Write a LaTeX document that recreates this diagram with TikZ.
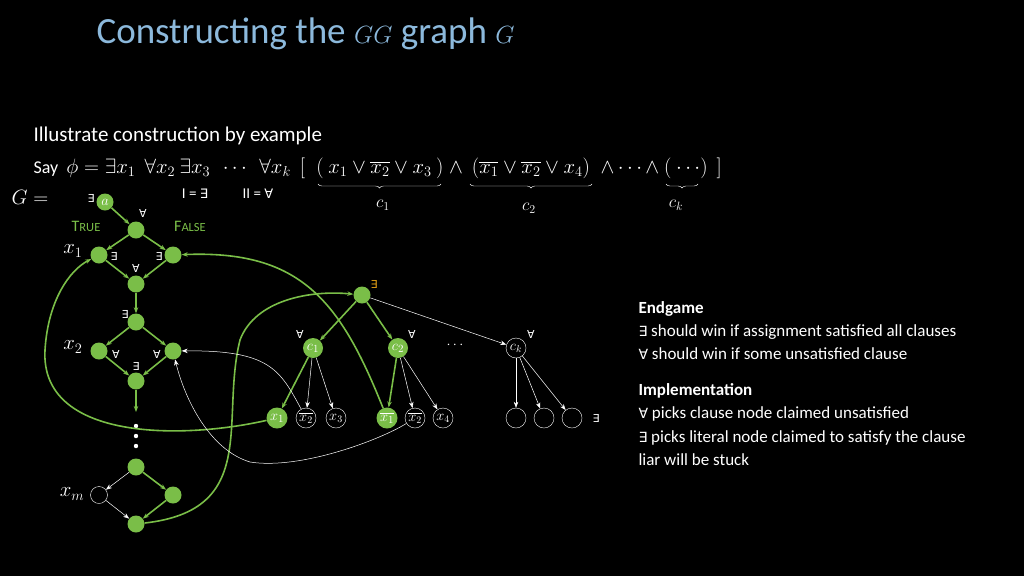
\documentclass[tikz,border=0pt]{standalone}
\usepackage{fontspec}
\setmainfont{Carlito}
\newfontfamily\symf{DejaVu Sans}
\usetikzlibrary{arrows.meta,decorations.pathreplacing}
\definecolor{gr}{RGB}{122,190,72}
\definecolor{ttl}{RGB}{140,185,220}
\definecolor{orq}{RGB}{230,160,20}
\begin{document}
\begin{tikzpicture}[x=1pt,y=-1pt,
 gn/.style={circle,fill=gr,minimum size=17pt,inner sep=0pt,text=white,font=\fontsize{15}{15}\selectfont},
 wn/.style={circle,draw=white,minimum size=20pt,inner sep=0pt,text=white,font=\fontsize{14}{14}\selectfont},
 ga/.style={draw=gr,line width=1.6pt,-{Stealth[length=6pt]}},
 wa/.style={draw=white,line width=0.5pt,-{Stealth[length=6pt]}},
 q/.style={text=white,font=\symf\fontsize{11}{11}\selectfont},
 fm/.style={text=white,anchor=base,font=\fontsize{20}{22}\selectfont},
 tx/.style={text=white,anchor=base west,font=\fontsize{17}{19}\selectfont}]
\fill[black] (0,0) rectangle (1024,576);
\useasboundingbox (0,0) rectangle (1024,576);
\node[text=ttl,anchor=base west,font=\fontsize{37}{40}\selectfont] (title) at (93,43) {Constructing the $\mathsurround=0pt\fontsize{40}{40}\selectfont GG$ graph {\fontsize{40}{40}\selectfont$G$}};
\node[tx,font=\fontsize{21}{23}\selectfont] (ill) at (30,141) {Illustrate construction by example};
\node[tx,font=\fontsize{18}{20}\selectfont] (say) at (30,173) {Say\ \ {\fontsize{20}{22}\selectfont$\phi=\exists x_1\ \ \forall x_2\ \exists x_3\ \ \cdots\ \ \forall x_k\ \ [$}};
\node[fm] (p1) at (380,173) {$(\ x_1\vee\overline{x_2}\vee x_3\ )$};
\node[fm] (p2) at (456,173) {$\wedge$};
\node[fm] (p3) at (531,173) {$(\overline{x_1}\vee\overline{x_2}\vee x_4)$};
\node[fm] (p4) at (630,173) {$\wedge\cdots\wedge$};
\node[fm] (p5) at (693,173) {$(\ \cdots)\ \ ]$};
\draw[white,decorate,decoration={brace,mirror,amplitude=4pt}] (318,184) -- (441,184);
\draw[white,decorate,decoration={brace,mirror,amplitude=4pt}] (470,184) -- (592,184);
\draw[white,decorate,decoration={brace,mirror,amplitude=4pt}] (666,184) -- (698,184);
\node[text=white,font=\fontsize{18}{18}\selectfont] (c1l) at (383,205) {$c_1$};
\node[text=white,font=\fontsize{18}{18}\selectfont] (c2l) at (529,208) {$c_2$};
\node[text=white,font=\fontsize{18}{18}\selectfont] (ckl) at (676,205) {$c_k$};
\node[text=white,font=\fontsize{20}{20}\selectfont] (Geq) at (30,197) {$G=$};
\node[text=white,font=\fontsize{15}{15}\selectfont] (I1) at (195,194) {I = {\symf\fontsize{13}{13}\selectfont ∃}};
\node[text=white,font=\fontsize{15}{15}\selectfont] (I2) at (258,194) {II = {\symf\fontsize{13}{13}\selectfont ∀}};
\node[text=gr,font=\fontsize{16}{16}\selectfont] (tru) at (86,226) {T\fontsize{12.5}{12.5}\selectfont RUE};
\node[text=gr,font=\fontsize{16}{16}\selectfont] (fal) at (190,226) {F\fontsize{12.5}{12.5}\selectfont ALSE};
% left chain
\node[gn] (a) at (105,202) {$a$};
\node[gn] (n1) at (136,230) {};
\node[gn] (x1t) at (99,255) {};
\node[gn] (x1f) at (173,255) {};
\node[gn] (n2) at (136,284) {};
\node[gn] (n3) at (136,322) {};
\node[gn] (x2t) at (99,351) {};
\node[gn] (x2f) at (173,351) {};
\node[gn] (n4) at (136,381) {};
\coordinate (d0) at (136,412);
\node[gn] (n5) at (136,467) {};
\node[wn,minimum size=17pt] (xm) at (99,495) {};
\node[gn] (r) at (173,495) {};
\node[gn] (n6) at (136,524) {};
\foreach \yy in {426,436,446} \fill[white] (136,\yy) circle (2.2pt);
\node[q] at (91,198) {∃};
\node[q] at (143,213) {∀};
\node[q] at (114,256) {∃};
\node[q] at (159,256) {∃};
\node[q] at (136,268) {∀};
\node[q] at (125,314) {∃};
\node[q] at (116,354) {∀};
\node[q] at (157,354) {∀};
\node[q] at (136,366) {∃};
\node[text=white,font=\fontsize{20}{20}\selectfont] at (73,251) {$x_1$};
\node[text=white,font=\fontsize{20}{20}\selectfont] at (73,347) {$x_2$};
\node[text=white,font=\fontsize{20}{20}\selectfont] at (72,494) {$x_m$};
\draw[ga] (a) -- (n1);
\draw[ga] (n1) -- (x1t); \draw[ga] (n1) -- (x1f);
\draw[ga] (x1t) -- (n2); \draw[ga] (x1f) -- (n2);
\draw[ga] (n2) -- (n3);
\draw[ga] (n3) -- (x2t); \draw[ga] (n3) -- (x2f);
\draw[ga] (x2t) -- (n4); \draw[ga] (x2f) -- (n4);
\draw[ga] (n4) -- (d0);
\draw[wa] (n5) -- (xm); \draw[ga] (n5) -- (r);
\draw[wa] (xm) -- (n6); \draw[ga] (r) -- (n6);
% clause part
\node[gn] (root) at (362,295) {};
\node[gn,minimum size=20pt] (c1) at (313,348) {$c_1$};
\node[gn,minimum size=20pt] (c2) at (398,348) {$c_2$};
\node[wn] (ck) at (516,348) {$c_k$};
\node[text=white,font=\fontsize{15}{15}\selectfont] at (455,345) {$\cdots$};
\node[text=orq,font=\symf\fontsize{11}{11}\selectfont] at (374,284) {∃};
\node[q] at (300,334) {∀};
\node[q] at (412,334) {∀};
\node[q] at (531,334) {∀};
\node[q] at (596,418) {∃};
\node[gn,minimum size=21pt] (l1) at (277,418) {$x_1$};
\node[wn] (l2) at (306,418) {$\overline{x_2}$};
\node[wn] (l3) at (336,418) {$x_3$};
\node[gn,minimum size=21pt] (l4) at (387,418) {$\overline{x_1}$};
\node[wn] (l5) at (415,418) {$\overline{x_2}$};
\node[wn] (l6) at (443,418) {$x_4$};
\node[wn] (l7) at (516,418) {};
\node[wn] (l8) at (544,418) {};
\node[wn] (l9) at (572,418) {};
\draw[ga] (root) -- (c1); \draw[ga] (root) -- (c2); \draw[wa] (root) -- (ck);
\draw[ga] (c1) -- (l1); \draw[wa] (c1) -- (l2); \draw[wa] (c1) -- (l3);
\draw[ga] (c2) -- (l4); \draw[wa] (c2) -- (l5); \draw[wa] (c2) -- (l6);
\draw[wa] (ck) -- (l7); \draw[wa] (ck) -- (l8); \draw[wa] (ck) -- (l9);
% long connectors
\draw[ga] (l1) .. controls (180,440) and (40,440) .. (45,350) .. controls (48,300) and (70,270) .. (x1t);
\draw[ga] (l4) .. controls (340,300) and (300,250) .. (x1f);
\draw[ga] (n6) .. controls (260,510) and (220,420) .. (240,340) .. controls (255,300) and (310,290) .. (root);
\draw[wa] (l2) .. controls (280,370) and (270,350) .. (x2f);
\draw[wa] (l5) .. controls (380,440) and (300,470) .. (250,462) .. controls (210,450) and (185,400) .. (x2f);
% right text
\node[tx,font=\bfseries\fontsize{17}{19}\selectfont] (eg) at (635,313) {Endgame};
\node[tx] at (635,336) {{\symf\fontsize{14}{14}\selectfont ∃} should win if assignment satisfied all clauses};
\node[tx] at (635,359) {{\symf\fontsize{14}{14}\selectfont ∀} should win if some unsatisfied clause};
\node[tx,font=\bfseries\fontsize{17}{19}\selectfont] (imp) at (635,395) {Implementation};
\node[tx] at (635,418) {{\symf\fontsize{14}{14}\selectfont ∀} picks clause node claimed unsatisfied};
\node[tx] at (635,442) {{\symf\fontsize{14}{14}\selectfont ∃} picks literal node claimed to satisfy the clause};
\node[tx] at (635,465) {liar will be stuck};
\end{tikzpicture}
\end{document}
